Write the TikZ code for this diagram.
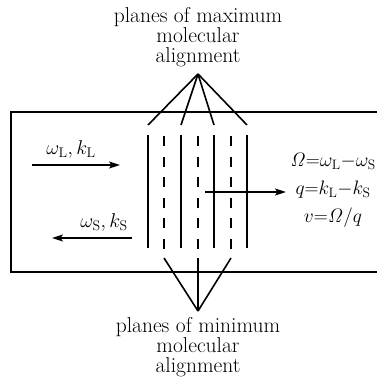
\RequirePackage{fix-cm}
\documentclass[tikz,border=0pt]{standalone}
\usetikzlibrary{arrows.meta}
\begin{document}
\begin{tikzpicture}[x=1pt,y=-1pt,
  boxline/.style={line width=1.8pt},
  solidplane/.style={line width=2.6pt},
  dashplane/.style={line width=2.6pt,dash pattern=on 10pt off 10.5pt},
  fan/.style={line width=1.6pt},
  wave/.style={line width=1.4pt,-{Stealth[length=11pt,width=7pt,inset=2.5pt]}},
  lbl/.style={align=center,font=\fontsize{21.5}{19.8}\selectfont,inner sep=0pt},
  mlbl/.style={inner sep=0pt,font=\fontsize{20}{22}\selectfont}]
\useasboundingbox (0,0) rectangle (377,382);
% box
\draw[boxline] (377,112) coordinate (tr) -- (11,112) coordinate (tl) -- (11,272) coordinate (bl) -- (377,272) coordinate (br);
% planes
\foreach \n/\x in {a/148,b/181,c/214,d/247}{
  \coordinate (s\n t) at (\x,135); \coordinate (s\n b) at (\x,248);
  \draw[solidplane] (s\n t) -- (s\n b);
  \coordinate (f\n) at (\x,125);
}
\foreach \n/\x in {a/164,b/198,c/231}{
  \coordinate (d\n t) at (\x,136); \coordinate (d\n b) at (\x,250);
  \draw[dashplane] (d\n t) -- (d\n b);
  \coordinate (g\n) at (\x,258);
}
% top label and fan
\node[lbl] (maxlbl) at (198,37) {planes of maximum\\molecular\\alignment};
\coordinate (topapex) at (198,74);
\foreach \n in {a,b,c,d}{\draw[fan] (topapex) -- (f\n);}
% bottom label and fan
\node[lbl] (minlbl) at (198,347) {planes of minimum\\molecular\\alignment};
\coordinate (botapex) at (198,311);
\foreach \n in {a,b,c}{\draw[fan] (g\n) -- (botapex);}
% waves
\coordinate (lstart) at (32,165); \coordinate (lend) at (120,165);
\draw[wave] (lstart) -- (lend);
\node[mlbl] (llbl) at (71,149) {$\omega_{\mathrm{L}}, k_{\mathrm{L}}$};
\coordinate (sstart) at (132,238); \coordinate (send) at (52,238);
\draw[wave] (sstart) -- (send);
\node[mlbl] (slbl) at (104,222) {$\omega_{\mathrm{S}}, k_{\mathrm{S}}$};
% grating velocity
\coordinate (vstart) at (205,192); \coordinate (vend) at (286,192);
\draw[wave] (vstart) -- (vend);
\node[mlbl,align=center,font=\fontsize{19.5}{22}\selectfont] (eqs) at (333,190) {$\mathit{\Omega}{=}\omega_{\mathrm{L}}{-}\omega_{\mathrm{S}}$\\[6pt]$q{=}k_{\mathrm{L}}{-}k_{\mathrm{S}}$\\[6pt]$v{=}\mathit{\Omega}/q$};
\end{tikzpicture}
\end{document}
